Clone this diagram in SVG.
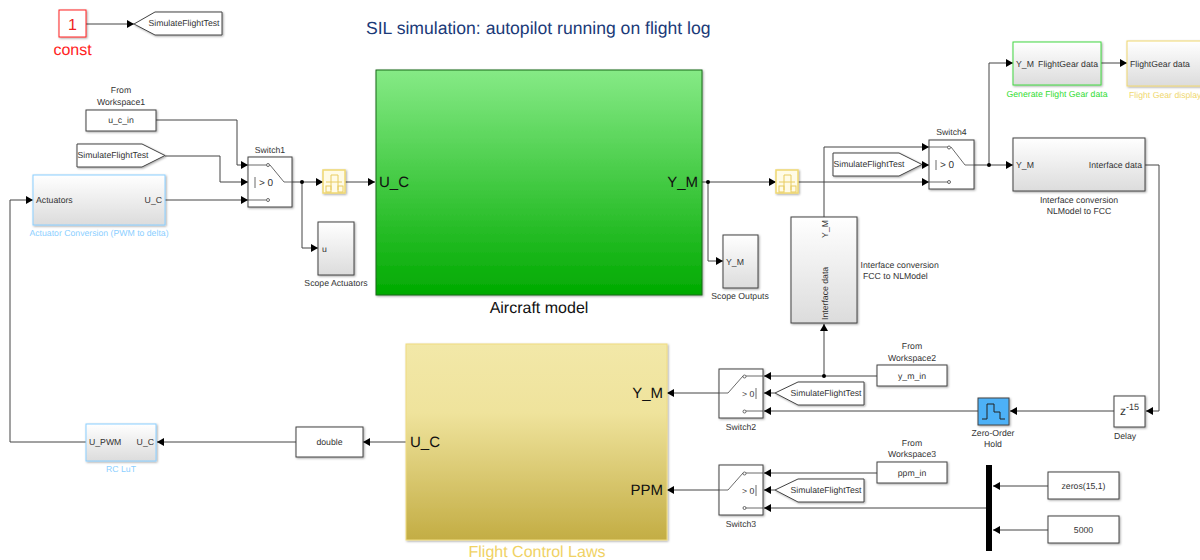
<svg xmlns="http://www.w3.org/2000/svg" width="1200" height="560" viewBox="0 0 1200 560">
<style>
text{font-family:"Liberation Sans",Arial,sans-serif;font-size:8.7px;fill:#333;text-rendering:geometricPrecision}
.m{text-anchor:middle}
.e{text-anchor:end}
.big{font-size:15px;fill:#111}
.lab{font-size:16px;fill:#111}
.b{fill:#fff;stroke:#444;stroke-width:1;filter:url(#sh)}
.s{fill:url(#sub);stroke:#444;stroke-width:1;filter:url(#sh)}
.w{fill:none;stroke:#444;stroke-width:1}
.g{fill:none;stroke:#444;stroke-width:.8}
.c{fill:#fff;stroke:#444;stroke-width:.8}
.y{fill:#fffbe6;stroke:#f0d870;stroke-width:1.5;filter:url(#sh)}
.yg{fill:none;stroke:#e8cc60;stroke-width:1}
</style>
<defs>
<filter id="sh" x="-10%" y="-10%" width="125%" height="125%"><feDropShadow dx="1" dy="1" stdDeviation="0.8" flood-color="#000" flood-opacity=".35"/></filter>
<linearGradient id="sub" x1="0" y1="0" x2="0" y2="1"><stop offset="0" stop-color="#fff"/><stop offset="1" stop-color="#dcdcdc"/></linearGradient>
<linearGradient id="green" x1="0" y1="0" x2="0" y2="1"><stop offset="0" stop-color="#86ea86"/><stop offset="1" stop-color="#00aa00"/></linearGradient>
<linearGradient id="gold" x1="0" y1="0" x2="0" y2="1"><stop offset="0" stop-color="#f2e8a8"/><stop offset=".35" stop-color="#efe39c"/><stop offset="1" stop-color="#c3ad44"/></linearGradient>
<marker id="a" markerUnits="userSpaceOnUse" markerWidth="8" markerHeight="8" refX="7" refY="4" orient="auto"><path d="M0,0L7,4L0,8Z" fill="#000"/></marker>
</defs>
<rect width="1200" height="560" fill="#fff"/>
<text id="title" x="366" y="34" style="font-size:17.6px;fill:#1b3a78">SIL simulation: autopilot running on flight log</text>
<g id="connectors">
<path class="w" marker-end="url(#a)" d="M86,24H134"/>
<path class="w" marker-end="url(#a)" d="M156,120H237V165H248"/>
<path class="w" marker-end="url(#a)" d="M165,156H220V182H248"/>
<path class="w" marker-end="url(#a)" d="M165,200H248"/>
<path class="w" marker-end="url(#a)" d="M292,182H323"/>
<path class="w" marker-end="url(#a)" d="M302,182V248H318"/>
<path class="w" marker-end="url(#a)" d="M345,182H375"/>
<path class="w" marker-end="url(#a)" d="M702,182H776"/>
<path class="w" marker-end="url(#a)" d="M708,182V261H723"/>
<path class="w" marker-end="url(#a)" d="M798,182H929"/>
<path class="w" marker-end="url(#a)" d="M824,217V147H929"/>
<path class="w" marker-end="url(#a)" d="M922,165H929"/>
<path class="w" marker-end="url(#a)" d="M974,165H1013"/>
<path class="w" marker-end="url(#a)" d="M989,165V63H1013"/>
<path class="w" marker-end="url(#a)" d="M1101,63H1127"/>
<path class="w" marker-end="url(#a)" d="M1145,165H1159V411H1146"/>
<path class="w" marker-end="url(#a)" d="M1114,411H1010"/>
<path class="w" marker-end="url(#a)" d="M978,411H764"/>
<path class="w" marker-end="url(#a)" d="M877,376H764"/>
<path class="w" marker-end="url(#a)" d="M824,376V324"/>
<path class="w" marker-end="url(#a)" d="M775,393H764"/>
<path class="w" marker-end="url(#a)" d="M719,393H667"/>
<path class="w" marker-end="url(#a)" d="M877,473H764"/>
<path class="w" marker-end="url(#a)" d="M775,490H764"/>
<path class="w" marker-end="url(#a)" d="M987,508H764"/>
<path class="w" marker-end="url(#a)" d="M719,490H667"/>
<path class="w" marker-end="url(#a)" d="M1048,486H993"/>
<path class="w" marker-end="url(#a)" d="M1048,530H993"/>
<path class="w" marker-end="url(#a)" d="M406,442H363"/>
<path class="w" marker-end="url(#a)" d="M296,442H157"/>
<path class="w" marker-end="url(#a)" d="M86,442H10V200H33"/>
<circle cx="302" cy="182" r="2" fill="#000"/>
<circle cx="708" cy="182" r="2" fill="#000"/>
<circle cx="989" cy="165" r="2" fill="#000"/>
<circle cx="824" cy="376" r="2" fill="#000"/>
</g>
<g id="const">
<rect x="59" y="10" width="27" height="27" fill="#fff" stroke="#f22" filter="url(#sh)"/>
<text class="m" x="72.500" y="30" style="font-size:16px;fill:#e22">1</text>
<text class="m" x="72.500" y="55" style="font-size:16px;fill:#f22">const</text>
</g>
<g id="goto">
<path class="b" d="M134,24L155,12H222V35H155Z"/>
<text x="148.500" y="26">SimulateFlightTest</text>
</g>
<g id="from-workspace1">
<rect class="b" x="86" y="110" width="70" height="21"/>
<text class="m" x="121" y="123">u_c_in</text>
<text class="m" x="121" y="93">From</text>
<text class="m" x="121" y="105">Workspace1</text>
</g>
<g id="from-tag1">
<path class="b" d="M77,144H142L165,155.500L142,167H77Z"/>
<text x="77.500" y="158">SimulateFlightTest</text>
</g>
<g id="actuator-conversion">
<rect class="s" x="33" y="175" width="132" height="50" style="stroke:#8ccfff"/>
<text x="36" y="203">Actuators</text>
<text class="e" x="162" y="203">U_C</text>
<text class="m" x="99" y="236" style="fill:#8ccfff">Actuator Conversion (PWM to delta)</text>
</g>
<g id="switch1">
<rect class="b" x="248" y="157" width="44" height="50"/>
<path class="g" d="M248,165H266M248,200H266M270,165L284,182H292M255,177V188"/>
<circle class="c" cx="268" cy="165" r="1.500"/><circle class="c" cx="268" cy="200" r="1.500"/>
<text x="259" y="185.500" style="font-size:10px">&gt; 0</text>
<text class="m" x="270" y="153">Switch1</text>
</g>
<g id="rate1">
<rect class="y" x="323" y="170" width="22" height="23"/>
<path class="yg" d="M326,182H342M331,190V175H338V190"/>
<rect class="yg" x="326" y="186" width="5" height="6"/><rect class="yg" x="338" y="186" width="5" height="6"/>
</g>
<g id="scope-actuators">
<rect class="s" x="318" y="222" width="36" height="53"/>
<text x="322" y="252">u</text>
<text class="m" x="336" y="286">Scope Actuators</text>
</g>
<g id="aircraft-model">
<rect x="376" y="70" width="326" height="225" fill="url(#green)" stroke="#1a6a1a" filter="url(#sh)"/>
<text class="big" x="379" y="187">U_C</text>
<text class="big e" x="698" y="187">Y_M</text>
<text class="lab m" x="539" y="313">Aircraft model</text>
</g>
<g id="rate2">
<rect class="y" x="776" y="170" width="22" height="23"/>
<path class="yg" d="M779,182H795M784,190V175H791V190"/>
<rect class="yg" x="779" y="186" width="5" height="6"/><rect class="yg" x="791" y="186" width="5" height="6"/>
</g>
<g id="scope-outputs">
<rect class="s" x="723" y="235" width="35" height="53"/>
<text x="726" y="265">Y_M</text>
<text class="m" x="740" y="299">Scope Outputs</text>
</g>
<g id="interface-fcc-to-nlmodel">
<rect class="s" x="791" y="217" width="66" height="106"/>
<text transform="translate(828,220) rotate(-90)" class="e">Y_M</text>
<text transform="translate(828,320) rotate(-90)">Interface data</text>
<text x="860.500" y="268">Interface conversion</text>
<text x="863" y="279">FCC to NLModel</text>
</g>
<g id="from-tag4">
<path class="b" d="M833,153H899L922,164.500L899,176H833Z"/>
<text x="833.500" y="167">SimulateFlightTest</text>
</g>
<g id="switch4">
<rect class="b" x="929" y="140" width="45" height="49"/>
<path class="g" d="M929,147H948M929,182H948M951,147L965,165H974M936,160V170"/>
<circle class="c" cx="949" cy="147.500" r="1.500"/><circle class="c" cx="949" cy="182" r="1.500"/>
<text x="940" y="167.500" style="font-size:10px">&gt; 0</text>
<text class="m" x="951.500" y="135">Switch4</text>
</g>
<g id="generate-flight-gear-data">
<rect class="s" x="1013" y="42" width="88" height="43" style="stroke:#44d844"/>
<text x="1016" y="67">Y_M</text>
<text class="e" x="1098" y="67">FlightGear data</text>
<text class="m" x="1057" y="97" style="fill:#33dd33">Generate Flight Gear data</text>
</g>
<g id="flight-gear-display">
<rect class="s" x="1127" y="41" width="80" height="45" style="stroke:#f0d870"/>
<text x="1130" y="67">FlightGear data</text>
<text x="1129" y="98" style="fill:#f0d870">Flight Gear display</text>
</g>
<g id="interface-nlmodel-to-fcc">
<rect class="s" x="1013" y="138" width="132" height="53"/>
<text x="1016" y="168">Y_M</text>
<text class="e" x="1142" y="168">Interface data</text>
<text class="m" x="1079" y="203">Interface conversion</text>
<text class="m" x="1079" y="214">NLModel to FCC</text>
</g>
<g id="delay">
<rect class="b" x="1114" y="396" width="31" height="31"/>
<text x="1120" y="415" style="font-size:12px">z<tspan dy="-5" style="font-size:9px">-15</tspan></text>
<text class="m" x="1125" y="439">Delay</text>
</g>
<g id="zero-order-hold">
<rect x="978" y="398" width="31" height="27" fill="#4db1f7" stroke="#444" filter="url(#sh)"/>
<path fill="none" stroke="#222" d="M982,419H987V404H994V412H1000V419H1005"/>
<text class="m" x="993" y="436">Zero-Order</text>
<text class="m" x="993" y="447">Hold</text>
</g>
<g id="from-workspace2">
<rect class="b" x="877" y="365" width="70" height="21"/>
<text class="m" x="912" y="379">y_m_in</text>
<text class="m" x="912" y="349">From</text>
<text class="m" x="912" y="361">Workspace2</text>
</g>
<g id="from-tag2">
<path class="b" d="M775,393L798,382H864V405H798Z"/>
<text x="790.500" y="396">SimulateFlightTest</text>
</g>
<g id="switch2">
<rect class="b" x="719" y="369" width="44" height="49"/>
<path class="g" d="M763,376H746M763,411H746M743,376L728,393H719M756,388V399"/>
<circle class="c" cx="744.500" cy="376.500" r="1.500"/><circle class="c" cx="744.500" cy="411.500" r="1.500"/>
<text x="742" y="396.500">&gt; 0</text>
<text class="m" x="741" y="430">Switch2</text>
</g>
<g id="from-workspace3">
<rect class="b" x="877" y="462" width="70" height="21"/>
<text class="m" x="912" y="476">ppm_in</text>
<text class="m" x="912" y="446">From</text>
<text class="m" x="912" y="457">Workspace3</text>
</g>
<g id="from-tag3">
<path class="b" d="M775,490L798,479H864V502H798Z"/>
<text x="790.500" y="493">SimulateFlightTest</text>
</g>
<g id="switch3">
<rect class="b" x="719" y="465" width="44" height="50"/>
<path class="g" d="M763,473H746M763,508H746M743,473L728,490H719M756,485V496"/>
<circle class="c" cx="744.500" cy="473.500" r="1.500"/><circle class="c" cx="744.500" cy="508" r="1.500"/>
<text x="742" y="493.500">&gt; 0</text>
<text class="m" x="741" y="527">Switch3</text>
</g>
<g id="mux"><rect x="986" y="465" width="6" height="86" fill="#000"/></g>
<g id="zeros">
<rect class="b" x="1048" y="472" width="71" height="27"/>
<text class="m" x="1083.500" y="489">zeros(15,1)</text>
</g>
<g id="const-5000">
<rect class="b" x="1048" y="516" width="71" height="27"/>
<text class="m" x="1083.500" y="533">5000</text>
</g>
<g id="flight-control-laws">
<rect x="406" y="344" width="261" height="196" fill="url(#gold)" stroke="#f0dc80" filter="url(#sh)"/>
<text class="big" x="410" y="447">U_C</text>
<text class="big e" x="663" y="398">Y_M</text>
<text class="big e" x="663" y="495">PPM</text>
<text class="lab m" x="537" y="557" style="fill:#f0d264">Flight Control Laws</text>
</g>
<g id="double">
<rect class="b" x="296" y="427" width="67" height="30"/>
<text class="m" x="329.500" y="445">double</text>
</g>
<g id="rc-lut">
<rect class="s" x="86" y="424" width="70" height="37" style="stroke:#8ccfff"/>
<text x="89" y="445">U_PWM</text>
<text class="e" x="154" y="445">U_C</text>
<text class="m" x="121" y="472" style="fill:#8ccfff">RC LuT</text>
</g>
</svg>
